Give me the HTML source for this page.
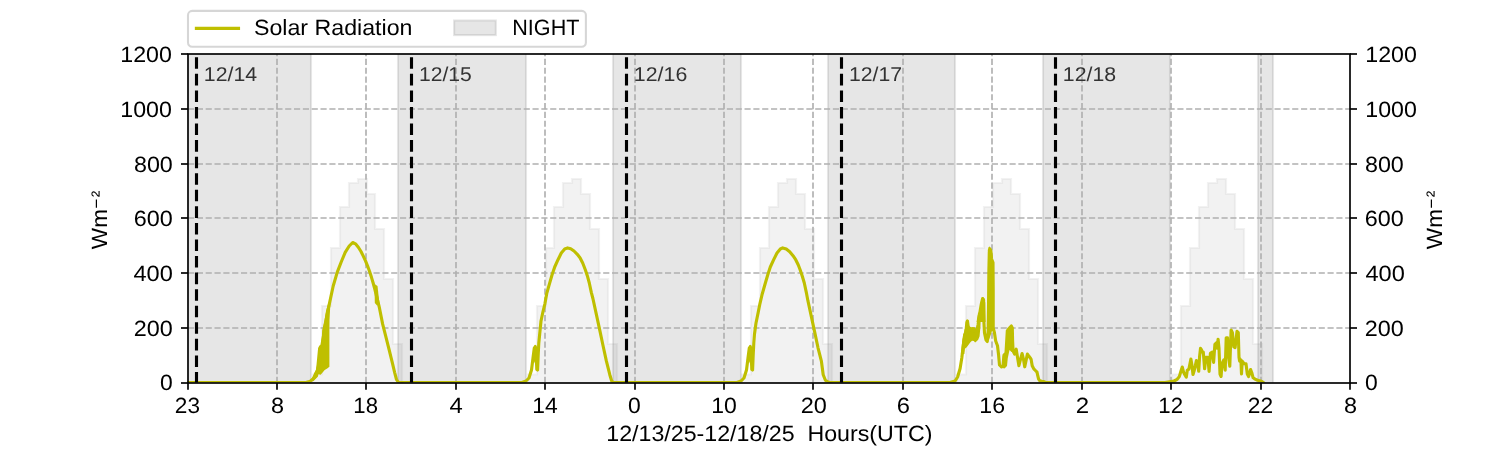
<!DOCTYPE html><html><head><meta charset="utf-8"><style>html,body{margin:0;padding:0;background:#fff;}svg{display:block;will-change:transform;}text{font-family:"Liberation Sans",sans-serif;white-space:pre;text-rendering:geometricPrecision;}</style></head><body>
<svg width="1500" height="450" viewBox="0 0 1500 450">
<defs><clipPath id="ax"><rect x="187.5" y="54" width="1162.5" height="328.5"/></clipPath></defs>
<rect x="0" y="0" width="1500" height="450" fill="#fff"/>
<g clip-path="url(#ax)">
<polygon points="313,383 313,374.5 322,374.5 322,306 331,306 331,248 340,248 340,207 349,207 349,183 358,183 358,179 367,179 367,194 375,194 375,229 384,229 384,279 393,279 393,344 402,344 402,383" fill="#d3d3d3" fill-opacity="0.3" stroke="#d3d3d3" stroke-opacity="0.3" stroke-width="2.08"/>
<polygon points="528,383 528,374.5 537,374.5 537,306 546,306 546,248 554,248 554,207 563,207 563,183 572,183 572,179 581,179 581,194 590,194 590,229 599,229 599,279 608,279 608,344 617,344 617,383" fill="#d3d3d3" fill-opacity="0.3" stroke="#d3d3d3" stroke-opacity="0.3" stroke-width="2.08"/>
<polygon points="742,383 742,374.5 751,374.5 751,306 760,306 760,248 769,248 769,207 778,207 778,183 787,183 787,179 796,179 796,194 805,194 805,229 814,229 814,279 823,279 823,344 832,344 832,383" fill="#d3d3d3" fill-opacity="0.3" stroke="#d3d3d3" stroke-opacity="0.3" stroke-width="2.08"/>
<polygon points="957,383 957,374.5 966,374.5 966,306 975,306 975,248 984,248 984,207 993,207 993,183 1002,183 1002,179 1011,179 1011,194 1020,194 1020,229 1029,229 1029,279 1038,279 1038,344 1047,344 1047,383" fill="#d3d3d3" fill-opacity="0.3" stroke="#d3d3d3" stroke-opacity="0.3" stroke-width="2.08"/>
<polygon points="1172,383 1172,374.5 1181,374.5 1181,306 1190,306 1190,248 1199,248 1199,207 1208,207 1208,183 1217,183 1217,179 1226,179 1226,194 1235,194 1235,229 1244,229 1244,279 1253,279 1253,344 1262,344 1262,383" fill="#d3d3d3" fill-opacity="0.3" stroke="#d3d3d3" stroke-opacity="0.3" stroke-width="2.08"/>
<rect x="150" y="40" width="161" height="360" fill="#808080" fill-opacity="0.2" stroke="#808080" stroke-opacity="0.2" stroke-width="2.08"/>
<rect x="398" y="40" width="128" height="360" fill="#808080" fill-opacity="0.2" stroke="#808080" stroke-opacity="0.2" stroke-width="2.08"/>
<rect x="613" y="40" width="128" height="360" fill="#808080" fill-opacity="0.2" stroke="#808080" stroke-opacity="0.2" stroke-width="2.08"/>
<rect x="828" y="40" width="127" height="360" fill="#808080" fill-opacity="0.2" stroke="#808080" stroke-opacity="0.2" stroke-width="2.08"/>
<rect x="1043" y="40" width="127" height="360" fill="#808080" fill-opacity="0.2" stroke="#808080" stroke-opacity="0.2" stroke-width="2.08"/>
<rect x="1258" y="40" width="15" height="360" fill="#808080" fill-opacity="0.2" stroke="#808080" stroke-opacity="0.2" stroke-width="2.08"/>
<line x1="277" y1="383" x2="277" y2="54" stroke="#b0b0b0" stroke-width="1.667" stroke-dasharray="6.1667 2.6667"/>
<line x1="366" y1="383" x2="366" y2="54" stroke="#b0b0b0" stroke-width="1.667" stroke-dasharray="6.1667 2.6667"/>
<line x1="456" y1="383" x2="456" y2="54" stroke="#b0b0b0" stroke-width="1.667" stroke-dasharray="6.1667 2.6667"/>
<line x1="545" y1="383" x2="545" y2="54" stroke="#b0b0b0" stroke-width="1.667" stroke-dasharray="6.1667 2.6667"/>
<line x1="635" y1="383" x2="635" y2="54" stroke="#b0b0b0" stroke-width="1.667" stroke-dasharray="6.1667 2.6667"/>
<line x1="724" y1="383" x2="724" y2="54" stroke="#b0b0b0" stroke-width="1.667" stroke-dasharray="6.1667 2.6667"/>
<line x1="813" y1="383" x2="813" y2="54" stroke="#b0b0b0" stroke-width="1.667" stroke-dasharray="6.1667 2.6667"/>
<line x1="903" y1="383" x2="903" y2="54" stroke="#b0b0b0" stroke-width="1.667" stroke-dasharray="6.1667 2.6667"/>
<line x1="992" y1="383" x2="992" y2="54" stroke="#b0b0b0" stroke-width="1.667" stroke-dasharray="6.1667 2.6667"/>
<line x1="1082" y1="383" x2="1082" y2="54" stroke="#b0b0b0" stroke-width="1.667" stroke-dasharray="6.1667 2.6667"/>
<line x1="1171" y1="383" x2="1171" y2="54" stroke="#b0b0b0" stroke-width="1.667" stroke-dasharray="6.1667 2.6667"/>
<line x1="1261" y1="383" x2="1261" y2="54" stroke="#b0b0b0" stroke-width="1.667" stroke-dasharray="6.1667 2.6667"/>
<line x1="188" y1="328" x2="1350" y2="328" stroke="#b0b0b0" stroke-width="1.667" stroke-dasharray="6.1667 2.6667"/>
<line x1="188" y1="273" x2="1350" y2="273" stroke="#b0b0b0" stroke-width="1.667" stroke-dasharray="6.1667 2.6667"/>
<line x1="188" y1="218" x2="1350" y2="218" stroke="#b0b0b0" stroke-width="1.667" stroke-dasharray="6.1667 2.6667"/>
<line x1="188" y1="164" x2="1350" y2="164" stroke="#b0b0b0" stroke-width="1.667" stroke-dasharray="6.1667 2.6667"/>
<line x1="188" y1="109" x2="1350" y2="109" stroke="#b0b0b0" stroke-width="1.667" stroke-dasharray="6.1667 2.6667"/>
<polygon points="306,381 309.7,380.4 312.2,378 314.1,373 316,369.9 317.2,357.4 318.1,348.1 319.4,345.6 320.9,344.7 321.8,337.5 322.2,330 324.5,320 326,311 328,304 330.5,304 330.2,307 329.5,320 329.4,330 329.4,366.7 327.2,368.6 324.7,369.9 322.8,372.3 320.7,374.8 318.5,374.2 317.8,376.7 315.3,379.2 313.5,381 306,381.7" fill="#bfbf00"/>
<polygon points="374.5,284 374.8,303 377,305.5 379.5,304 377.5,286" fill="#bfbf00"/>
<polygon points="960.9,354 962.2,340.7 963.1,334.4 964.4,331.8 965.3,322 966.2,319.8 967.6,319.2 968.9,320.2 969.8,326.4 971.1,327.3 972.9,326.9 974.7,327.2 976,328.7 976.9,330.9 977.3,329.1 978,319.3 978.7,314 980.9,314 980.4,327.3 979.6,336.2 978.2,339.8 976.4,341.6 975.1,342.4 973.8,341.1 972,340.7 970.2,342.4 968.4,345.1 966.7,347.3 964.9,348.7 964.4,354" fill="#bfbf00"/>
<polygon points="987.3,341.5 987.7,300 987.8,250 988.5,247.3 989.5,246.5 990.5,247.3 991.3,249 991.6,258.5 992.5,260 993.6,263 993.8,300 993.6,331 992,331 989,340" fill="#bfbf00"/>
<polygon points="1002.5,368 1002.8,356 1004,353.5 1005.8,352.5 1006.8,340 1007.3,330.5 1009,328.8 1010.5,326.5 1011.4,324.5 1012.4,326.5 1012.8,340 1013.3,352 1011.5,352 1009.5,350 1007.8,358 1007,366 1004.5,368.5" fill="#bfbf00"/>
<polygon points="533.2,358 534.3,348 535.3,346.5 536.5,350 537.5,356 537.3,366 536,366 534.3,362" fill="#bfbf00"/>
<polygon points="748.2,358 749.3,348 750.3,346.5 751.5,350 752.5,356 752.3,366 751,366 749.3,362" fill="#bfbf00"/>
<polygon points="976.5,322 978,313 980,311.5 980.6,303 981.5,298.5 983,297 984.5,298.5 985.3,303 985.6,322" fill="#bfbf00"/>
<polyline points="186,382.55 306,382.55 310,381.5 313,379 316,375 318,368 320,358 322,345 324.5,330 326.8,316 328.4,308.4 330.8,297.2 333.2,286 337.2,272.4 341.2,262 345.2,252.4 349.2,246 352.7,242.5 355.5,243.8 358.5,247.5 361,251.5 363.3,256.1 365.5,260.8 367.5,265.8 369.5,271.3 371.4,277.1 373,282.5 374.6,288.4 376.5,296 378,302 379.4,307.7 382.6,323.9 385.9,336.8 389.1,349.7 392.3,362.6 394.6,372.3 396.5,379.5 398.5,382.55 402,382.55" fill="none" stroke="#bfbf00" stroke-width="3.125" stroke-linejoin="round" stroke-linecap="square"/>
<polyline points="402,382.55 522,382.55 526,381 529,378 531.5,370 533,358 534.3,348 535.3,346.5 536.2,352 536.8,369.5 537.6,370 538.2,355 538.8,343 539.7,334 541,321 543,311.5 544.9,303.8 546.7,293.7 549.3,284.3 552,275 554.7,267 558,259.7 561.3,253 564.7,249 567.6,247.9 570.7,248.7 574,251 577.3,254.3 580,257.7 582.7,263 585.3,269.7 587.3,275.7 589.3,283 591.3,292.3 592.9,298.5 596.3,314.1 599.7,329.8 603,345.5 606.4,361.2 609.8,374.7 611.6,380.8 613.5,382.55 618,382.55" fill="none" stroke="#bfbf00" stroke-width="3.125" stroke-linejoin="round" stroke-linecap="square"/>
<polyline points="618,382.55 737,382.55 741,381 744,378 746.5,370 748,358 749.3,348 750.3,346.5 751.2,352 751.8,369.5 752.6,370 753.2,355 753.8,343 754.5,334 756,323 758,313.4 759.9,303.8 762.3,293.7 765,284.3 767.7,275 770.3,267 773.7,259.7 777,253 780.3,249 782.7,247.9 786.3,249 789.7,251.7 793,255.7 795.7,259.7 798.3,265 800.3,270.3 802.3,276.3 804.3,283 806.3,292.3 807.9,300.7 811.3,316.4 814.7,332.1 818,347.8 821.4,361.2 823.2,374.7 825.4,380.3 828.1,382 830,382.55" fill="none" stroke="#bfbf00" stroke-width="3.125" stroke-linejoin="round" stroke-linecap="square"/>
<polyline points="830,382.55 950,382.55 955.1,381 957.6,377 960.1,368.5 961.8,358 963,348 964,340 966,330 968,327 970,334 973,334 976,335 978,325 979,318 980.3,310 981.3,304 982.6,298.5 983.6,300 983.6,310 983.8,320 984.5,333 986,340 987.3,341.5 988.2,330 988.6,300 989,270 989.5,252 990.3,249.5 991,252 991.6,259 993,262.5 993.2,290 993.2,328 994.5,333 995.7,341 997.5,345.7 998.6,355 999.5,365 1001.5,367 1003,366 1004,355 1006,353 1007.3,331 1009,328.5 1011.3,326 1012.3,328 1012.6,341 1013.1,351 1014.6,354 1016.2,349.2 1017.3,356.1 1018.9,365.7 1020.5,359.3 1022.1,353.5 1023.5,359.3 1024.7,366.8 1026.3,359.3 1027.4,354 1028.8,356.1 1030.1,357.7 1031.1,359.3 1032.2,365.7 1033.8,368.9 1035.4,370.5 1037,372.1 1037.7,375.3 1038.6,379.1 1039.7,380.7 1041.8,381.2 1043.9,381.6 1046,382.55" fill="none" stroke="#bfbf00" stroke-width="3.125" stroke-linejoin="round" stroke-linecap="square"/>
<polyline points="1046,382.55 1165,382.55 1174,381 1177.2,379.3 1179.3,376.6 1180.9,371.3 1182.3,367 1183.6,372.3 1184.7,374.5 1186.3,377.1 1187.3,370.2 1188.9,369.1 1190.9,359 1191.9,364.9 1193,374.5 1194.3,370.2 1195.3,365.9 1196.4,360.6 1197.5,362.7 1198.7,371.3 1199.6,356.3 1200.5,348.3 1201.5,349.9 1202.3,352 1203.3,352.1 1204.6,368.8 1205.9,357.2 1207.8,357.2 1209.1,371.4 1210.4,353.4 1212.3,352.1 1213.6,362.4 1214.9,344.3 1216.2,343 1217.2,348.2 1218.1,339.2 1219,348.2 1220,374 1221.1,376.5 1222,363.7 1223.9,359.8 1225.2,370.1 1226.2,337.9 1227.5,337.9 1228.4,355.9 1229.8,366.2 1231.1,330 1232.4,332.7 1233.8,346.9 1235.1,347.6 1237,331.4 1238.3,332.7 1239,357.2 1239.6,361.1 1240.9,359.8 1241.5,374 1242.2,361.1 1244.1,363.7 1246,363.7 1247.3,374 1248.6,376.5 1250.6,369.5 1251.8,372.7 1253.1,377.8 1255.1,379.1 1257.6,380.2 1261.5,381.2 1263.5,382.55" fill="none" stroke="#bfbf00" stroke-width="3.125" stroke-linejoin="round" stroke-linecap="square"/>
<line x1="196.5" y1="383.5" x2="196.5" y2="54" stroke="#000" stroke-width="3.125" stroke-dasharray="11.5625 5"/>
<line x1="411.5" y1="383.5" x2="411.5" y2="54" stroke="#000" stroke-width="3.125" stroke-dasharray="11.5625 5"/>
<line x1="626.5" y1="383.5" x2="626.5" y2="54" stroke="#000" stroke-width="3.125" stroke-dasharray="11.5625 5"/>
<line x1="841.5" y1="383.5" x2="841.5" y2="54" stroke="#000" stroke-width="3.125" stroke-dasharray="11.5625 5"/>
<line x1="1055.5" y1="383.5" x2="1055.5" y2="54" stroke="#000" stroke-width="3.125" stroke-dasharray="11.5625 5"/>
<text x="203.89" y="81.00" font-size="19.87" textLength="53.26" lengthAdjust="spacingAndGlyphs" fill="#333">12/14</text>
<text x="418.91" y="81.00" font-size="19.87" textLength="52.88" lengthAdjust="spacingAndGlyphs" fill="#333">12/15</text>
<text x="633.89" y="81.00" font-size="19.87" textLength="53.41" lengthAdjust="spacingAndGlyphs" fill="#333">12/16</text>
<text x="848.90" y="81.00" font-size="19.87" textLength="53.15" lengthAdjust="spacingAndGlyphs" fill="#333">12/17</text>
<text x="1062.89" y="81.00" font-size="19.87" textLength="53.28" lengthAdjust="spacingAndGlyphs" fill="#333">12/18</text>
</g>
<rect x="188" y="54" width="1162" height="329" fill="none" stroke="#000" stroke-width="1.667"/>
<line x1="188" y1="383" x2="188" y2="389.8" stroke="#000" stroke-width="1.667"/>
<line x1="277" y1="383" x2="277" y2="389.8" stroke="#000" stroke-width="1.667"/>
<line x1="366" y1="383" x2="366" y2="389.8" stroke="#000" stroke-width="1.667"/>
<line x1="456" y1="383" x2="456" y2="389.8" stroke="#000" stroke-width="1.667"/>
<line x1="545" y1="383" x2="545" y2="389.8" stroke="#000" stroke-width="1.667"/>
<line x1="635" y1="383" x2="635" y2="389.8" stroke="#000" stroke-width="1.667"/>
<line x1="724" y1="383" x2="724" y2="389.8" stroke="#000" stroke-width="1.667"/>
<line x1="813" y1="383" x2="813" y2="389.8" stroke="#000" stroke-width="1.667"/>
<line x1="903" y1="383" x2="903" y2="389.8" stroke="#000" stroke-width="1.667"/>
<line x1="992" y1="383" x2="992" y2="389.8" stroke="#000" stroke-width="1.667"/>
<line x1="1082" y1="383" x2="1082" y2="389.8" stroke="#000" stroke-width="1.667"/>
<line x1="1171" y1="383" x2="1171" y2="389.8" stroke="#000" stroke-width="1.667"/>
<line x1="1261" y1="383" x2="1261" y2="389.8" stroke="#000" stroke-width="1.667"/>
<line x1="1350" y1="383" x2="1350" y2="389.8" stroke="#000" stroke-width="1.667"/>
<line x1="181" y1="383" x2="188" y2="383" stroke="#000" stroke-width="1.667"/>
<line x1="1350" y1="383" x2="1357" y2="383" stroke="#000" stroke-width="1.667"/>
<line x1="181" y1="328" x2="188" y2="328" stroke="#000" stroke-width="1.667"/>
<line x1="1350" y1="328" x2="1357" y2="328" stroke="#000" stroke-width="1.667"/>
<line x1="181" y1="273" x2="188" y2="273" stroke="#000" stroke-width="1.667"/>
<line x1="1350" y1="273" x2="1357" y2="273" stroke="#000" stroke-width="1.667"/>
<line x1="181" y1="218" x2="188" y2="218" stroke="#000" stroke-width="1.667"/>
<line x1="1350" y1="218" x2="1357" y2="218" stroke="#000" stroke-width="1.667"/>
<line x1="181" y1="164" x2="188" y2="164" stroke="#000" stroke-width="1.667"/>
<line x1="1350" y1="164" x2="1357" y2="164" stroke="#000" stroke-width="1.667"/>
<line x1="181" y1="109" x2="188" y2="109" stroke="#000" stroke-width="1.667"/>
<line x1="1350" y1="109" x2="1357" y2="109" stroke="#000" stroke-width="1.667"/>
<line x1="181" y1="54" x2="188" y2="54" stroke="#000" stroke-width="1.667"/>
<line x1="1350" y1="54" x2="1357" y2="54" stroke="#000" stroke-width="1.667"/>
<text x="174.85" y="412.75" font-size="22.08" textLength="25.16" lengthAdjust="spacingAndGlyphs" fill="#000">23</text>
<text x="270.94" y="412.75" font-size="22.08" textLength="13.05" lengthAdjust="spacingAndGlyphs" fill="#000">8</text>
<text x="353.38" y="412.75" font-size="22.08" textLength="24.61" lengthAdjust="spacingAndGlyphs" fill="#000">18</text>
<text x="449.46" y="413.00" font-size="22.08" textLength="13.27" lengthAdjust="spacingAndGlyphs" fill="#000">4</text>
<text x="532.32" y="413.00" font-size="22.08" textLength="25.44" lengthAdjust="spacingAndGlyphs" fill="#000">14</text>
<text x="628.09" y="412.75" font-size="22.08" textLength="12.74" lengthAdjust="spacingAndGlyphs" fill="#000">0</text>
<text x="711.31" y="412.75" font-size="22.08" textLength="25.58" lengthAdjust="spacingAndGlyphs" fill="#000">10</text>
<text x="800.81" y="412.75" font-size="22.08" textLength="26.10" lengthAdjust="spacingAndGlyphs" fill="#000">20</text>
<text x="896.79" y="412.75" font-size="22.08" textLength="13.21" lengthAdjust="spacingAndGlyphs" fill="#000">6</text>
<text x="979.30" y="412.75" font-size="22.08" textLength="25.73" lengthAdjust="spacingAndGlyphs" fill="#000">16</text>
<text x="1075.78" y="413.00" font-size="22.08" textLength="13.37" lengthAdjust="spacingAndGlyphs" fill="#000">2</text>
<text x="1158.37" y="413.00" font-size="22.08" textLength="24.75" lengthAdjust="spacingAndGlyphs" fill="#000">12</text>
<text x="1247.84" y="413.00" font-size="22.08" textLength="25.30" lengthAdjust="spacingAndGlyphs" fill="#000">22</text>
<text x="1343.94" y="412.75" font-size="22.08" textLength="13.05" lengthAdjust="spacingAndGlyphs" fill="#000">8</text>
<text x="160.09" y="389.75" font-size="22.08" textLength="12.74" lengthAdjust="spacingAndGlyphs" fill="#000">0</text>
<text x="133.81" y="335.75" font-size="22.08" textLength="39.02" lengthAdjust="spacingAndGlyphs" fill="#000">200</text>
<text x="133.47" y="280.75" font-size="22.08" textLength="39.38" lengthAdjust="spacingAndGlyphs" fill="#000">400</text>
<text x="133.81" y="225.75" font-size="22.08" textLength="39.02" lengthAdjust="spacingAndGlyphs" fill="#000">600</text>
<text x="133.95" y="171.75" font-size="22.08" textLength="38.88" lengthAdjust="spacingAndGlyphs" fill="#000">800</text>
<text x="120.30" y="116.75" font-size="22.08" textLength="51.59" lengthAdjust="spacingAndGlyphs" fill="#000">1000</text>
<text x="120.30" y="61.75" font-size="22.08" textLength="51.59" lengthAdjust="spacingAndGlyphs" fill="#000">1200</text>
<text x="1365.09" y="389.75" font-size="22.08" textLength="12.74" lengthAdjust="spacingAndGlyphs" fill="#000">0</text>
<text x="1364.81" y="335.75" font-size="22.08" textLength="39.02" lengthAdjust="spacingAndGlyphs" fill="#000">200</text>
<text x="1365.47" y="280.75" font-size="22.08" textLength="39.38" lengthAdjust="spacingAndGlyphs" fill="#000">400</text>
<text x="1364.81" y="225.75" font-size="22.08" textLength="39.02" lengthAdjust="spacingAndGlyphs" fill="#000">600</text>
<text x="1364.95" y="171.75" font-size="22.08" textLength="38.88" lengthAdjust="spacingAndGlyphs" fill="#000">800</text>
<text x="1365.30" y="116.75" font-size="22.08" textLength="51.59" lengthAdjust="spacingAndGlyphs" fill="#000">1000</text>
<text x="1365.30" y="61.75" font-size="22.08" textLength="51.59" lengthAdjust="spacingAndGlyphs" fill="#000">1200</text>
<text x="606.30" y="441.25" font-size="22.08" textLength="326.15" lengthAdjust="spacingAndGlyphs" fill="#000">12/13/25-12/18/25  Hours(UTC)</text>
<text transform="translate(107.00,249.13) rotate(-90)" x="0" y="0" font-size="22.08" textLength="40.09" lengthAdjust="spacingAndGlyphs">Wm</text><line x1="96.40" y1="199.50" x2="96.40" y2="207.80" stroke="#000" stroke-width="1.2"/><text transform="translate(105.43,197.23) rotate(-90) scale(0.8906,0.8865)" x="0" y="0" font-size="22.08">²</text>
<text transform="translate(1442.00,249.13) rotate(-90)" x="0" y="0" font-size="22.08" textLength="40.09" lengthAdjust="spacingAndGlyphs">Wm</text><line x1="1431.40" y1="199.50" x2="1431.40" y2="207.80" stroke="#000" stroke-width="1.2"/><text transform="translate(1440.43,197.23) rotate(-90) scale(0.8906,0.8865)" x="0" y="0" font-size="22.08">²</text>
<rect x="188" y="10.9" width="397.9" height="35.8" rx="4.17" ry="4.17" fill="#fff" fill-opacity="0.8" stroke="#cccccc" stroke-opacity="0.8" stroke-width="2.083"/>
<line x1="196.4" y1="28.4" x2="238.5" y2="28.4" stroke="#bfbf00" stroke-width="3.125" stroke-linecap="square"/>
<rect x="454.1" y="20.5" width="41.7" height="14.6" fill="#808080" fill-opacity="0.2" stroke="#808080" stroke-opacity="0.2" stroke-width="2.083"/>
<text x="253.95" y="34.75" font-size="22.08" textLength="158.52" lengthAdjust="spacingAndGlyphs" fill="#000">Solar Radiation</text>
<text x="512.29" y="34.75" font-size="22.08" textLength="67.15" lengthAdjust="spacingAndGlyphs" fill="#000">NIGHT</text>
</svg></body></html>
